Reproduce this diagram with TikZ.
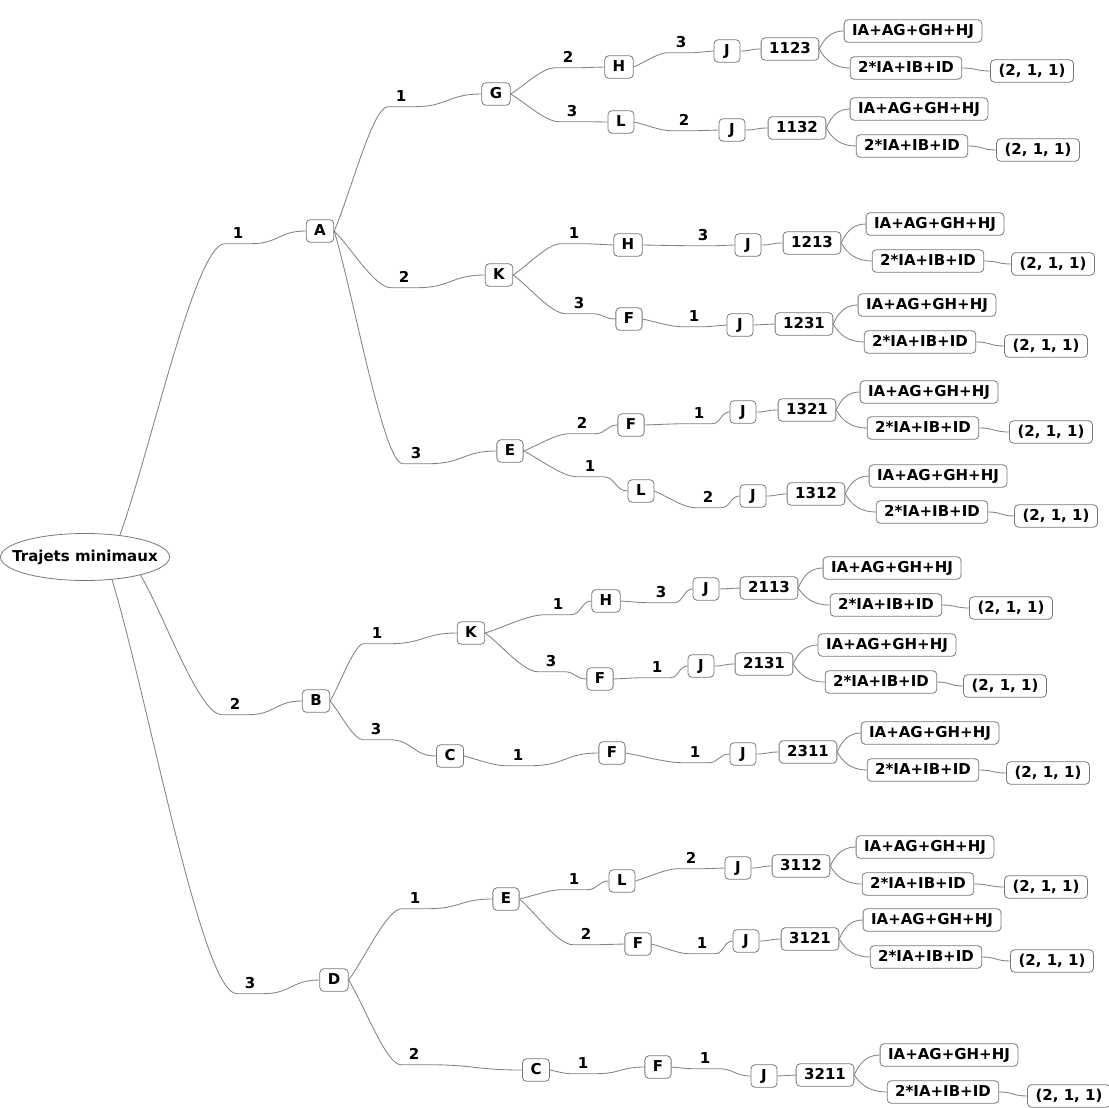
\documentclass[tikz,border=0pt]{standalone}
\usepackage{fontspec}
\setmainfont{DejaVu Sans}
\usetikzlibrary{shapes.geometric,calc}
\definecolor{edgegray}{RGB}{130,130,130}
\definecolor{boxgray}{RGB}{120,120,120}
\tikzset{
  txt/.style={font=\bfseries\fontsize{15}{18}\selectfont},
  box/.style={txt, draw=boxgray, line width=0.8pt, rounded corners=4pt, fill=white,
    text height=10.5pt, text depth=1.5pt, inner xsep=8pt, inner ysep=5.25pt, minimum width=26pt},
  lab/.style={txt, inner sep=0pt, minimum width=26pt, minimum height=21pt},
  rootnode/.style={draw=boxgray, line width=0.8pt, ellipse, minimum width=169pt, minimum height=47pt, inner sep=0pt},
  edge/.style={draw=edgegray, line width=0.85pt},
}
% parent anchor -> label -> child
\newcommand\mmPedge[3]{%
  \draw[edge] let \p1=(#1), \p2=(#2.south west), \p3=(#2.south east), \p4=(#3.west) in
    (\p1) .. controls ({\x1+0.3*(\x2-\x1)},{\y1+0.3*(\y2-\y1)}) and ({\x1+0.72*(\x2-\x1)},\y2) .. (\p2)
    -- (\p3) .. controls ({0.5*(\x3+\x4)},\y3) and ({0.5*(\x3+\x4)},\y4) .. (\p4);}
% S curve
\newcommand\mmSedge[2]{%
  \draw[edge] let \p1=(#1), \p2=(#2) in
    (\p1) .. controls ({0.5*(\x1+\x2)},\y1) and ({0.5*(\x1+\x2)},\y2) .. (\p2);}
% branch curve (steep start, horizontal end)
\newcommand\mmLedge[2]{%
  \draw[edge] let \p1=(#1), \p2=(#2) in
    (\p1) .. controls ({\x1+0.2*(\x2-\x1)},{\y1+0.6*(\y2-\y1)}) and ({0.5*(\x1+\x2)},\y2) .. (\p2);}
% J -> number -> results
\newcommand\mmTail[7]{%
  \node[box] (#1j) at (#2) {J};
  \node[box] (#1n) at (#4) {#3};
  \node[box] (#1a) at (#5) {IA+AG+GH+HJ};
  \node[box] (#1b) at (#6) {2*IA+IB+ID};
  \node[box] (#1c) at (#7) {(2, 1, 1)};
  \mmSedge{#1j.east}{#1n.west}
  \mmLedge{#1n.east}{#1a.west}
  \mmLedge{#1n.east}{#1b.west}
  \mmSedge{#1b.east}{#1c.west}
}
\begin{document}
\begin{tikzpicture}[x=1pt,y=-1pt]
\useasboundingbox (0,0) rectangle (1109,1108);

\node[rootnode, label={[txt]center:Trajets minimaux}] (root) at (85,557) {};

% level 1
\node[lab] (lA) at (238,233) {1};
\node[box] (A) at (320,231) {A};
\node[lab] (lB) at (235,704) {2};
\node[box] (B) at (316,701) {B};
\node[lab] (lD) at (250,983) {3};
\node[box] (D) at (334,980) {D};
\mmPedge{root.32}{lA}{A}
\mmPedge{root.-18}{lB}{B}
\mmPedge{root.-40}{lD}{D}

% ---- A subtree
\node[lab] (lAG) at (401,96) {1};
\node[box] (G) at (496,94) {G};
\node[lab] (lAK) at (404,277) {2};
\node[box] (K1) at (499,275) {K};
\node[lab] (lAE) at (416,453) {3};
\node[box] (E1) at (510,451) {E};
\mmPedge{A.east}{lAG}{G}
\mmPedge{A.east}{lAK}{K1}
\mmPedge{A.east}{lAE}{E1}

% G
\node[lab] (lGH) at (568,57) {2};
\node[box] (H1) at (619,67) {H};
\node[lab] (lGL) at (572,111) {3};
\node[box] (L1) at (621,122) {L};
\mmPedge{G.east}{lGH}{H1}
\mmPedge{G.east}{lGL}{L1}
\node[lab] (lH1) at (681,42) {3};
\mmTail{t1}{727,51}{1123}{790,49}{913,31}{906,68}{1032,71}
\mmPedge{H1.east}{lH1}{t1j}
\node[lab] (lL1) at (684,120) {2};
\mmTail{t2}{732,130}{1132}{797,128}{919,109}{912,146}{1038,150}
\mmPedge{L1.east}{lL1}{t2j}

% K1
\node[lab] (lKH) at (574,233) {1};
\node[box] (H2) at (628,245) {H};
\node[lab] (lKF) at (579,303) {3};
\node[box] (F1) at (629,319) {F};
\mmPedge{K1.east}{lKH}{H2}
\mmPedge{K1.east}{lKF}{F1}
\node[lab] (lH2) at (703,235) {3};
\mmTail{t3}{748,245}{1213}{812,243}{935,224}{928,261}{1053,264}
\mmPedge{H2.east}{lH2}{t3j}
\node[lab] (lF1) at (694,316) {1};
\mmTail{t4}{740,325}{1231}{804,324}{927,305}{920,342}{1046,346}
\mmPedge{F1.east}{lF1}{t4j}

% E1
\node[lab] (lEF) at (582,423) {2};
\node[box] (F2) at (631,425) {F};
\node[lab] (lEL) at (590,466) {1};
\node[box] (L2) at (641,491) {L};
\mmPedge{E1.east}{lEF}{F2}
\mmPedge{E1.east}{lEL}{L2}
\node[lab] (lF2) at (699,413) {1};
\mmTail{t5}{743,412}{1321}{807,410}{929,392}{923,428}{1051,432}
\mmPedge{F2.east}{lF2}{t5j}
\node[lab] (lL2) at (708,497) {2};
\mmTail{t6}{753,496}{1312}{816,494}{938,476}{932,512}{1056,516}
\mmPedge{L2.east}{lL2}{t6j}

% ---- B subtree
\node[lab] (lBK) at (377,633) {1};
\node[box] (K2) at (471,633) {K};
\node[lab] (lBC) at (376,729) {3};
\node[box] (C1) at (450,756) {C};
\mmPedge{B.east}{lBK}{K2}
\mmPedge{B.east}{lBC}{C1}

\node[lab] (lKH2) at (558,604) {1};
\node[box] (H3) at (606,601) {H};
\node[lab] (lKF2) at (551,661) {3};
\node[box] (F3) at (600,679) {F};
\mmPedge{K2.east}{lKH2}{H3}
\mmPedge{K2.east}{lKF2}{F3}
\node[lab] (lH3) at (661,592) {3};
\mmTail{t7}{706,589}{2113}{769,588}{892,568}{886,605}{1011,608}
\mmPedge{H3.east}{lH3}{t7j}
\node[lab] (lF3) at (657,667) {1};
\mmTail{t8}{701,666}{2131}{764,664}{887,645}{881,682}{1005,686}
\mmPedge{F3.east}{lF3}{t8j}

\node[lab] (lCF) at (518,755) {1};
\node[box] (F4) at (612,753) {F};
\mmPedge{C1.east}{lCF}{F4}
\node[lab] (lF4) at (695,752) {1};
\mmTail{t9}{743,754}{2311}{808,752}{930,733}{923,770}{1048,773}
\mmPedge{F4.east}{lF4}{t9j}

% ---- D subtree
\node[lab] (lDE) at (415,898) {1};
\node[box] (E2) at (506,899) {E};
\node[lab] (lDC) at (414,1054) {2};
\node[box] (C2) at (536,1070) {C};
\mmPedge{D.east}{lDE}{E2}
\mmPedge{D.east}{lDC}{C2}

\node[lab] (lEL3) at (574,879) {1};
\node[box] (L3) at (622,881) {L};
\node[lab] (lEF5) at (586,934) {2};
\node[box] (F5) at (638,944) {F};
\mmPedge{E2.east}{lEL3}{L3}
\mmPedge{E2.east}{lEF5}{F5}
\node[lab] (lL3) at (691,858) {2};
\mmTail{t10}{738,868}{3112}{801,866}{925,847}{918,884}{1046,887}
\mmPedge{L3.east}{lL3}{t10j}
\node[lab] (lF5) at (702,943) {1};
\mmTail{t11}{746,941}{3121}{810,939}{932,920}{926,957}{1052,961}
\mmPedge{F5.east}{lF5}{t11j}

\node[lab] (lCF6) at (583,1063) {1};
\node[box] (F6) at (658,1067) {F};
\mmPedge{C2.east}{lCF6}{F6}
\node[lab] (lF6) at (705,1058) {1};
\mmTail{t12}{764,1076}{3211}{825,1075}{949,1055}{943,1092}{1069,1096}
\mmPedge{F6.east}{lF6}{t12j}
\end{tikzpicture}
\end{document}
